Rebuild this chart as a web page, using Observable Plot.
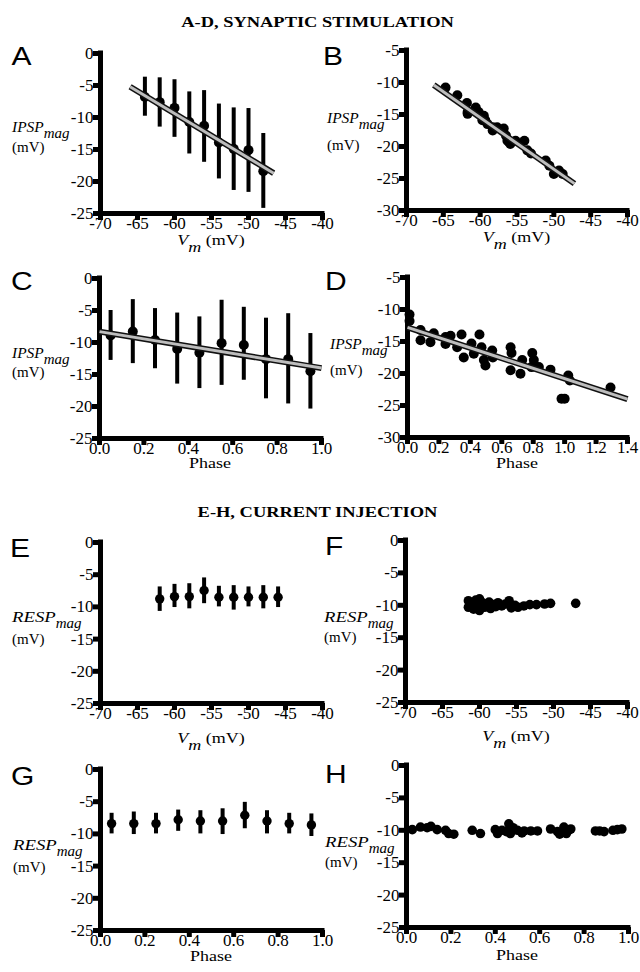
<!DOCTYPE html>
<html><head><meta charset="utf-8">
<script src="https://cdn.jsdelivr.net/npm/d3@7"></script>
<script src="https://cdn.jsdelivr.net/npm/@observablehq/plot@0.6"></script>
<style>
body{margin:0;background:#fff;}
#fig{position:relative;width:640px;height:972px;background:#fff;overflow:hidden;}
#fig svg, #fig svg text{font-family:'Liberation Serif','Times New Roman',serif !important;}
#overlay{position:absolute;left:0;top:0;pointer-events:none;}
#overlay text.sans{font-family:'Liberation Sans',Arial,sans-serif !important;}
</style></head><body><div id="fig"></div>
<script>
// ---------- tick labels ----------
const vmTicks = [-70, -65, -60, -55, -50, -45, -40];
const phaseTicks = [0, 0.2, 0.4, 0.6, 0.8, 1.0];
const phaseTicksD = [0, 0.2, 0.4, 0.6, 0.8, 1.0, 1.2, 1.4];
const magTicks25 = [-25, -20, -15, -10, -5, 0];
const magTicks30 = [-30, -25, -20, -15, -10, -5];

// ---------- A: IPSP vs Vm (mean ± SD) ----------
const A_vm   = [-64, -62, -60, -58, -56, -54, -52, -50, -48];
const A_mean = [-6.8, -7.6, -8.5, -10.7, -11.3, -13.9, -14.9, -15.1, -18.4];
const A_lo   = [-9.8, -11.5, -13.1, -15.7, -17.0, -19.6, -21.4, -21.7, -24.2];
const A_hi   = [-3.7, -3.8, -4.1, -6.0, -5.8, -7.9, -8.5, -8.6, -12.5];
const A_fitX = [-66, -46.6];
const A_fitY = [-5.2, -18.7];

// ---------- B: IPSP vs Vm (single cell) ----------
const B_vm   = [-64.7, -63.1, -61.8, -61.7, -61.7, -60.6, -60.2, -59.5, -59.7, -59.3, -59.0, -58.3, -58.3, -57.7,
                -56.8, -56.5, -56.3, -56.1, -55.9, -55.2, -54.0, -53.6, -53.1, -51.1, -50.6, -50.0, -49.3, -48.8];
const B_ipsp = [-10.8, -12.0, -13.2, -14.6, -14.9, -13.9, -14.6, -15.2, -15.9, -15.9, -16.5, -17.5, -17.0, -17.0,
                -17.2, -18.3, -19.1, -19.3, -19.6, -19.1, -19.1, -20.6, -21.1, -22.2, -23.0, -24.3, -23.75, -24.3];
const B_fitX = [-66.3, -47.2];
const B_fitY = [-10.4, -25.8];

// ---------- C: IPSP vs phase (mean ± SD) ----------
const C_phase = [0.05, 0.15, 0.25, 0.35, 0.45, 0.55, 0.65, 0.75, 0.85, 0.95];
const C_mean  = [-8.9, -8.3, -9.6, -11.0, -11.6, -10.1, -10.4, -12.6, -12.6, -14.5];
const C_lo    = [-12.8, -13.3, -14.1, -16.5, -17.2, -16.7, -15.9, -18.8, -19.6, -20.4];
const C_hi    = [-5.0, -3.3, -4.7, -5.4, -6.0, -3.4, -4.5, -6.2, -5.5, -8.6];
const C_fitX = [0, 1.0];
const C_fitY = [-8.3, -14.0];

// ---------- D: IPSP vs phase (single cell) ----------
const D_phase = [0.013, 0.013, 0.083, 0.083, 0.167, 0.146, 0.242, 0.242, 0.274, 0.344, 0.316, 0.358, 0.407, 0.422,
                 0.458, 0.471, 0.496, 0.486, 0.539, 0.543, 0.656, 0.662, 0.656, 0.719, 0.730, 0.794, 0.804, 0.789,
                 0.836, 0.910, 1.023, 1.033, 0.98, 1.0, 1.292];
const D_ipsp  = [-10.8, -11.8, -13.2, -14.8, -13.7, -15.1, -14.3, -15.4, -14.1, -13.9, -15.9, -17.5, -15.3, -16.9,
                 -13.9, -15.9, -18.75, -17.9, -16.4, -17.5, -15.9, -16.8, -19.5, -20.05, -17.9, -16.8, -17.9, -19.0,
                 -19.0, -19.4, -20.3, -21.1, -23.95, -23.95, -22.2];
const D_fitX = [0, 1.4];
const D_fitY = [-12.8, -24.0];

// ---------- E: RESP vs Vm (mean ± SD) ----------
const E_vm   = [-62, -60, -58, -56, -54, -52, -50, -48, -46];
const E_mean = [-8.75, -8.4, -8.4, -7.45, -8.5, -8.5, -8.5, -8.5, -8.5];
const E_lo   = [-10.7, -10.1, -10.3, -9.5, -10.0, -10.5, -10.0, -10.3, -10.1];
const E_hi   = [-6.9, -6.5, -6.4, -5.5, -6.8, -6.7, -6.9, -6.7, -6.9];

// ---------- F: RESP vs Vm (single cell) ----------
const F_vm   = [-61.5, -61.5, -61, -60.8, -60.5, -60.3, -60, -60, -59.6, -59.3, -59, -58.7, -58.5, -58.2,
                -57.8, -57.5, -57, -56.5, -56, -55.7, -55.2, -54.8, -54, -53.2, -52.3, -51.2, -50.4, -47];
const F_resp = [-9.3, -10.3, -9.8, -10.6, -9.2, -10.0, -9.0, -10.8, -9.6, -10.3, -10.0, -9.5, -10.5, -9.9,
                -10.2, -9.6, -10.1, -9.8, -9.3, -10.4, -10.0, -10.3, -10.1, -9.9, -9.9, -9.8, -9.7, -9.7];

// ---------- G: RESP vs phase (mean ± SD) ----------
const G_phase = [0.05, 0.15, 0.25, 0.35, 0.45, 0.55, 0.65, 0.75, 0.85, 0.95];
const G_mean  = [-8.4, -8.4, -8.4, -7.8, -8.0, -8.0, -7.1, -8.0, -8.4, -8.6];
const G_lo    = [-10.0, -10.1, -10.0, -9.6, -10.0, -10.1, -9.2, -10.0, -10.0, -10.4];
const G_hi    = [-6.8, -6.6, -6.8, -6.3, -6.4, -6.1, -5.1, -6.4, -6.8, -6.9];

// ---------- H: RESP vs phase (single cell) ----------
const H_phase = [0.026, 0.063, 0.093, 0.11, 0.138, 0.176, 0.19, 0.213, 0.296, 0.333, 0.40, 0.41, 0.43, 0.45, 0.461,
                 0.468, 0.48, 0.50, 0.52, 0.53, 0.56, 0.59, 0.649, 0.68, 0.69, 0.709, 0.72, 0.73, 0.74, 0.851, 0.87,
                 0.89, 0.93, 0.95, 0.97];
const H_resp  = [-9.9, -9.5, -9.6, -9.4, -9.9, -10.0, -10.5, -10.6, -10.0, -10.5, -9.9, -10.5, -10.0, -10.2, -9.0,
                 -10.5, -9.6, -10.0, -10.4, -10.1, -10.1, -10.1, -9.8, -10.2, -10.6, -9.5, -10.5, -10.0, -9.8, -10.1, -10.1,
                 -10.2, -10.0, -9.9, -9.8];

// ---------- helpers ----------
const zip = (xs, ys, extra = {}) => xs.map((x, i) => {
  const o = {x, y: ys[i]};
  for (const k in extra) o[k] = extra[k][i];
  return o;
});
const intFmt = d => String(d);
const decFmt = d3.format(".1f");
const serif = "'Liberation Serif', 'Times New Roman', serif";
const fig = document.getElementById("fig");

function panel({frame, right, xDomain, yDomain, xTicks, yTicks, xFormat, points, bars, fit, r = 5}) {
  const [L, R, T, B] = frame;
  const left = right ? 320 : 0;
  const width = right ? 320 : 330;
  const top = T - 25, height = (B - T) + 50;
  const marks = [
    Plot.axisY({ticks: yTicks, tickSize: 7, strokeWidth: 5, tickFormat: () => "", label: null}),
    Plot.axisY({ticks: yTicks, tickSize: 0, tickPadding: 7, tickFormat: intFmt, label: null, fontSize: 17, fontFamily: serif}),
    Plot.axisX({ticks: xTicks, tickSize: 7, strokeWidth: 5, tickFormat: () => "", label: null}),
    Plot.axisX({ticks: xTicks, tickSize: 0, tickPadding: 3, tickFormat: xFormat, label: null, fontSize: 17, fontFamily: serif}),
    Plot.ruleX([xDomain[0]], {stroke: "black", strokeWidth: 5, strokeLinecap: "square"}),
    Plot.ruleY([yDomain[0]], {stroke: "black", strokeWidth: 5, strokeLinecap: "square"})
  ];
  if (bars) marks.push(Plot.ruleX(bars, {x: "x", y1: "lo", y2: "hi", stroke: "black", strokeWidth: 4}));
  marks.push(Plot.dot(points, {x: "x", y: "y", r, fill: "black", stroke: "none"}));
  if (fit) {
    marks.push(Plot.line(fit, {x: "x", y: "y", stroke: "#111", strokeWidth: 6, strokeLinecap: "butt"}));
    marks.push(Plot.line(fit, {x: "x", y: "y", stroke: "#bdbdbd", strokeWidth: 3, strokeLinecap: "butt"}));
  }
  const svg = Plot.plot({
    width, height,
    marginLeft: L - left, marginRight: left + width - R, marginTop: 25, marginBottom: 25,
    x: {domain: xDomain}, y: {domain: yDomain},
    style: {fontFamily: serif, fontSize: "17px", background: "transparent", overflow: "visible", maxWidth: "none", color: "black"},
    marks
  });
  svg.setAttribute("font-family", serif);
  svg.style.position = "absolute";
  svg.style.left = left + "px";
  svg.style.top = top + "px";
  fig.appendChild(svg);
}

panel({frame: [100, 322, 53, 213], xDomain: [-70, -40], yDomain: [-25, 0], xTicks: vmTicks, yTicks: magTicks25,
  xFormat: intFmt, points: zip(A_vm, A_mean), bars: zip(A_vm, A_mean, {lo: A_lo, hi: A_hi}), fit: zip(A_fitX, A_fitY)});
panel({frame: [406, 627, 50, 210], right: true, xDomain: [-70, -40], yDomain: [-30, -5], xTicks: vmTicks, yTicks: magTicks30,
  xFormat: intFmt, points: zip(B_vm, B_ipsp), fit: zip(B_fitX, B_fitY)});
panel({frame: [99, 321, 278, 438], xDomain: [0, 1], yDomain: [-25, 0], xTicks: phaseTicks, yTicks: magTicks25,
  xFormat: decFmt, points: zip(C_phase, C_mean), bars: zip(C_phase, C_mean, {lo: C_lo, hi: C_hi}), fit: zip(C_fitX, C_fitY)});
panel({frame: [407, 627, 277, 437], right: true, xDomain: [0, 1.4], yDomain: [-30, -5], xTicks: phaseTicksD, yTicks: magTicks30,
  xFormat: decFmt, points: zip(D_phase, D_ipsp), fit: zip(D_fitX, D_fitY)});
panel({frame: [100, 322, 542, 703], xDomain: [-70, -40], yDomain: [-25, 0], xTicks: vmTicks, yTicks: magTicks25,
  xFormat: intFmt, points: zip(E_vm, E_mean), bars: zip(E_vm, E_mean, {lo: E_lo, hi: E_hi}), r: 4.7});
panel({frame: [405, 627, 540, 702], right: true, xDomain: [-70, -40], yDomain: [-25, 0], xTicks: vmTicks, yTicks: magTicks25,
  xFormat: intFmt, points: zip(F_vm, F_resp), r: 4.8});
panel({frame: [100, 322, 769, 930], xDomain: [0, 1], yDomain: [-25, 0], xTicks: phaseTicks, yTicks: magTicks25,
  xFormat: decFmt, points: zip(G_phase, G_mean), bars: zip(G_phase, G_mean, {lo: G_lo, hi: G_hi}), r: 4.7});
panel({frame: [406, 628, 765, 927], right: true, xDomain: [0, 1], yDomain: [-25, 0], xTicks: phaseTicks, yTicks: magTicks25,
  xFormat: decFmt, points: zip(H_phase, H_resp), r: 4.8});

// ---------- text overlay ----------
const ov = d3.select(fig).append("svg").attr("id", "overlay").attr("width", 640).attr("height", 972);
function txt(x, y, parts, {anchor = "start", size = 15, sx = 1.2, cls = null, weight = null} = {}) {
  const t = ov.append("text").attr("transform", `translate(${x},${y}) scale(${sx},1)`)
    .attr("text-anchor", anchor).attr("font-size", size).style("white-space", "pre");
  if (cls) t.attr("class", cls);
  if (weight) t.attr("font-weight", weight);
  for (const p of parts) {
    const s = t.append("tspan").text(p.t);
    if (p.i) s.attr("font-style", "italic");
    if (p.dy) s.attr("dy", p.dy);
    if (p.size) s.attr("font-size", p.size);
  }
  return t;
}
// titles
txt(317.5, 26.5, [{t: "A-D, SYNAPTIC STIMULATION"}], {anchor: "middle", weight: "bold", sx: 1.23});
txt(317.5, 516.5, [{t: "E-H, CURRENT INJECTION"}], {anchor: "middle", weight: "bold", sx: 1.23});
// panel letters
[["A", 11.5, 65], ["B", 323, 65], ["C", 11, 290], ["D", 325, 290],
 ["E", 10, 557], ["F", 325, 555], ["G", 11, 785], ["H", 325, 783]]
  .forEach(([l, x, y]) => txt(x, y, [{t: l}], {size: 25, cls: "sans"}));
// y labels: name + subscript "mag" + (mV)
const yl = (name, sx, x, y1, y2) => {
  const t = txt(x, y1, [{t: name, i: true}], {sx});
  const w = t.node().getComputedTextLength() * sx;
  txt(x + w, y1 + 6, [{t: "mag", i: true}], {sx: 1.0});
  txt(x, y2, [{t: "(mV)"}], {sx: 1.0});
};
yl("IPSP", 1.03, 12, 131.5, 152);
yl("IPSP", 1.03, 327, 123, 150);
yl("IPSP", 1.03, 12, 357.5, 377);
yl("IPSP", 1.03, 330, 349, 375);
yl("RESP", 1.25, 12, 621.5, 643.5);
yl("RESP", 1.25, 324, 621.5, 642);
yl("RESP", 1.25, 13, 850, 872);
yl("RESP", 1.25, 325, 846.5, 867);
// x labels
const xvm = (cx, y) => txt(cx, y, [{t: "V", i: true}, {t: "m", i: true, dy: 7}, {t: " (mV)", dy: -7}], {anchor: "middle"});
xvm(211, 245); xvm(516.5, 242); xvm(211, 743); xvm(516, 741);
const xph = (cx, y) => txt(cx, y, [{t: "Phase"}], {anchor: "middle"});
xph(210, 468); xph(517, 468); xph(211, 961); xph(517, 960);
</script></body></html>
